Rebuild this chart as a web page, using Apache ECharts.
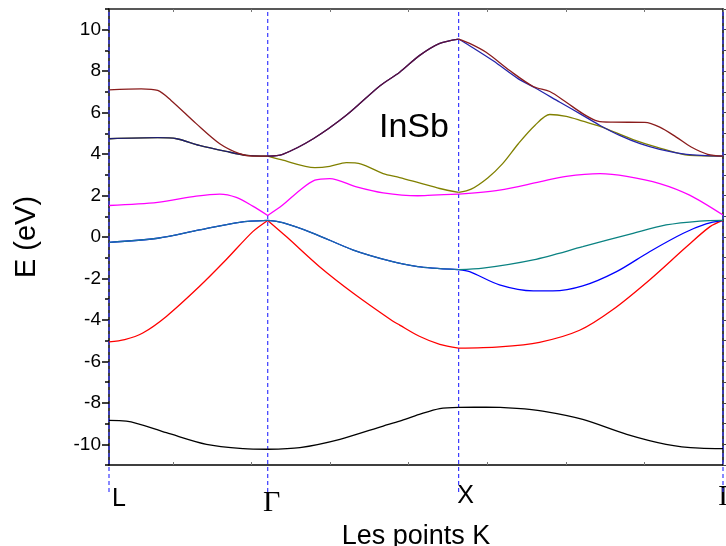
<!DOCTYPE html>
<html><head><meta charset="utf-8">
<script src="https://cdn.jsdelivr.net/npm/echarts@6/dist/echarts.min.js"></script>
<style>html,body{margin:0;padding:0;background:#fff}#c{width:726px;height:546px}</style>
</head><body><div id="c"></div>
<script>
// high-symmetry points along the k path (x in path units, ticks every 1)
const kPoints = [0, 2.02, 4.45, 7.815];
const kLabels = ['L', 'Γ', 'X', 'Γ'];
const xMax = 7.815;
const xTicks = [0.815, 1.815, 2.815, 3.815, 4.815, 5.815, 6.815, 7.815];
const yMin = -11, yMax = 11;
const yMajorTicks = [-10, -8, -6, -4, -2, 0, 2, 4, 6, 8, 10];
const yMinorTicks = [-11, -9, -7, -5, -3, -1, 1, 3, 5, 7, 9, 11];
const yRightTicks = [-11,-10,-9,-8,-7,-6,-5,-4,-3,-2,-1,0,1,2,3,4,5,6,7,8,9,10,11];
const kLineBottom = -12.3;

// energy bands [k, E (eV)]
const band1 = [[0,-8.85],[0.22,-8.88],[0.73,-9.44],[1.24,-10.0],[1.71,-10.21],[2.02,-10.24],[2.43,-10.16],[2.94,-9.76],[3.49,-9.12],[3.70,-8.88],[3.95,-8.56],[4.21,-8.28],[4.45,-8.22],[4.80,-8.21],[5.19,-8.27],[5.52,-8.4],[6.03,-8.8],[6.59,-9.52],[7.09,-10.0],[7.52,-10.19],[7.815,-10.21]];
const band2 = [[0,-5.06],[0.20,-4.95],[0.43,-4.63],[0.73,-3.83],[1.15,-2.39],[1.49,-1.10],[1.83,0.26],[2.02,0.80],[2.26,0.01],[2.68,-1.43],[3.11,-2.71],[3.61,-4.05],[3.70,-4.25],[3.95,-4.79],[4.21,-5.18],[4.45,-5.36],[4.97,-5.30],[5.48,-5.08],[5.99,-4.5],[6.41,-3.51],[6.88,-2.07],[7.35,-0.47],[7.65,0.5],[7.815,0.80]];
const band3 = [[0,-0.26],[0.62,-0.06],[1.15,0.34],[1.66,0.71],[2.02,0.80],[2.21,0.69],[2.60,0.18],[3.11,-0.63],[3.61,-1.19],[3.93,-1.43],[4.12,-1.5],[4.45,-1.57],[4.76,-1.5],[5.40,-1.1],[6.03,-0.47],[6.67,0.18],[7.09,0.58],[7.52,0.77],[7.815,0.80]];
const band4 = [[0,-0.26],[0.62,-0.06],[1.15,0.34],[1.66,0.71],[2.02,0.80],[2.21,0.69],[2.60,0.18],[3.11,-0.63],[3.61,-1.19],[3.93,-1.43],[4.12,-1.5],[4.45,-1.57],[4.59,-1.67],[4.97,-2.31],[5.40,-2.6],[5.65,-2.6],[6.03,-2.36],[6.46,-1.67],[6.88,-0.71],[7.31,0.18],[7.60,0.63],[7.815,0.80]];
const band5 = [[0,1.52],[0.62,1.67],[1.11,1.97],[1.41,2.07],[1.62,1.91],[1.83,1.49],[2.02,1.04],[2.21,1.54],[2.43,2.26],[2.62,2.74],[2.81,2.82],[3.15,2.42],[3.49,2.13],[3.93,1.99],[4.12,2.02],[4.45,2.07],[4.97,2.26],[5.48,2.66],[5.82,2.93],[6.25,3.06],[6.59,2.93],[7.01,2.58],[7.39,2.02],[7.815,1.06]];
const band6 = [[0,4.74],[0.62,4.79],[0.86,4.74],[1.15,4.42],[1.49,4.13],[1.75,3.94],[2.02,3.90],[2.19,3.73],[2.62,3.35],[2.81,3.41],[3.02,3.59],[3.21,3.52],[3.49,3.06],[3.70,2.87],[3.95,2.61],[4.21,2.34],[4.45,2.15],[4.61,2.31],[4.82,2.85],[5.01,3.54],[5.21,4.5],[5.42,5.38],[5.61,5.91],[5.82,5.82],[6.03,5.59],[6.25,5.34],[6.67,4.7],[6.97,4.34],[7.39,3.94],[7.815,3.90]];
const band7 = [[0,4.74],[0.62,4.79],[0.86,4.74],[1.15,4.42],[1.49,4.13],[1.75,3.94],[2.02,3.90],[2.21,3.99],[2.60,4.74],[3.02,5.87],[3.45,7.3],[3.70,7.95],[3.95,8.75],[4.21,9.34],[4.45,9.55],[4.59,9.23],[4.89,8.5],[5.21,7.63],[5.42,7.2],[5.74,6.5],[6.03,5.87],[6.25,5.38],[6.50,4.9],[6.76,4.5],[7.01,4.23],[7.35,3.99],[7.815,3.90]];
const band8 = [[0,7.10],[0.41,7.15],[0.62,7.07],[0.79,6.59],[1.11,5.47],[1.41,4.5],[1.66,4.02],[1.83,3.90],[2.02,3.90],[2.21,3.99],[2.60,4.74],[3.02,5.87],[3.45,7.3],[3.70,7.95],[3.95,8.75],[4.21,9.34],[4.45,9.55],[4.59,9.34],[4.80,8.91],[5.10,8.03],[5.40,7.26],[5.61,7.02],[5.82,6.5],[6.03,5.95],[6.22,5.59],[6.41,5.54],[6.82,5.53],[7.01,5.30],[7.22,4.82],[7.41,4.34],[7.62,3.99],[7.815,3.90]];

const FONT = '"Liberation Sans", Arial, sans-serif';
const SERIF = '"Liberation Serif", "Times New Roman", serif';

const chart = echarts.init(document.getElementById('c'), null, {renderer: 'canvas'});

const series = [];
kPoints.forEach(k => {
  series.push({
    type: 'line', data: [[k, kLineBottom], [k, yMax]], clip: false, silent: true,
    symbol: 'none', z: 1,
    lineStyle: {color: '#3a3aff', width: 1.2, type: [4, 3]}
  });
});
function seg(data, a, b) { return data.filter(p => p[0] >= a - 1e-9 && p[0] <= b + 1e-9); }
// draw a band piecewise between high-symmetry points; colors = one per path section
function band(data, colors) {
  for (let s = 0; s < kPoints.length - 1; s++) {
    const c = colors[s];
    series.push({type: 'line', data: seg(data, kPoints[s], kPoints[s + 1]), symbol: 'none', showSymbol: false,
      smooth: 0.3, z: 3, lineStyle: {color: c, width: 1.3}, itemStyle: {color: c}});
  }
}
band(band1, ['#000000', '#000000', '#000000']);
band(band2, ['#ff0000', '#ff0000', '#ff0000']);
band(band4, ['#0000ff', '#0000ff', '#0000ff']);
band(band3, ['#1a6ea2', '#1a6ea2', '#0a8282']);
band(band5, ['#ff00ff', '#ff00ff', '#ff00ff']);
band(band6, ['#808000', '#808000', '#808000']);
band(band7, ['#1c1c72', '#2424aa', '#2424aa']);
band(band8, ['#8a1c1c', '#5c1038', '#8a1c1c']);

const labelKeys = ['l', 'g1', 'x', 'g2'];
const option = {
  animation: false,
  backgroundColor: '#fff',
  title: {text: 'InSb', left: 379, top: 111, padding: 0,
    textStyle: {fontSize: 34, fontWeight: 'normal', fontFamily: FONT, color: '#000'}},
  grid: {left: 109, right: 3, top: 9, bottom: 81, containLabel: false, outerBoundsMode: 'none'},
  xAxis: [
    {type: 'value', min: 0, max: xMax, position: 'bottom',
      axisLine: {show: true, onZero: false, lineStyle: {color: '#000', width: 1.5}},
      axisTick: {show: true, inside: true, length: 3, customValues: xTicks, lineStyle: {color: '#777', width: 1}},
      axisLabel: {show: true, customValues: kPoints, margin: 22, showMinLabel: true, showMaxLabel: true,
        formatter: function (v) {
          let idx = 0;
          kPoints.forEach((k, i) => { if (Math.abs(k - v) < 1e-6) idx = i; });
          return '{' + labelKeys[idx] + '|' + kLabels[idx] + '}';
        },
        rich: {
          l: {fontSize: 25, fontFamily: FONT, color: '#000', padding: [0, 0, 0, 20]},
          g1: {fontSize: 30, fontFamily: SERIF, color: '#000', padding: [1, 0, 0, 8]},
          x: {fontSize: 25, fontFamily: FONT, color: '#000', padding: [-3, 0, 0, 14]},
          g2: {fontSize: 30, fontFamily: SERIF, color: '#000', padding: [-5, 0, 0, 8]}
        }},
      splitLine: {show: false},
      name: 'Les points K', nameLocation: 'middle', nameGap: 37,
      nameTextStyle: {fontSize: 27, fontFamily: FONT, color: '#000'}},
    {type: 'value', min: 0, max: xMax, position: 'top',
      axisLine: {show: true, onZero: false, lineStyle: {color: '#222', width: 1.5}},
      axisTick: {show: true, inside: true, length: 3, customValues: xTicks, lineStyle: {color: '#777', width: 1}},
      axisLabel: {show: false}, splitLine: {show: false}}
  ],
  yAxis: [
    {type: 'value', min: yMin, max: yMax, position: 'left',
      axisLine: {show: true, onZero: false, lineStyle: {color: '#000', width: 1.5}},
      axisTick: {show: true, inside: false, length: 7, customValues: yMajorTicks, lineStyle: {color: '#000', width: 1.5}},
      axisLabel: {show: true, customValues: yMajorTicks, margin: 8, fontSize: 19, fontFamily: FONT, color: '#000'},
      splitLine: {show: false},
      name: 'E (eV)', nameLocation: 'middle', nameGap: 68, nameRotate: 90,
      nameTextStyle: {fontSize: 29, fontFamily: FONT, color: '#000'}},
    {type: 'value', min: yMin, max: yMax, position: 'left',
      axisLine: {show: false, onZero: false},
      axisTick: {show: true, inside: false, length: 4, customValues: yMinorTicks, lineStyle: {color: '#000', width: 1.5}},
      axisLabel: {show: false}, splitLine: {show: false}},
    {type: 'value', min: yMin, max: yMax, position: 'right',
      axisLine: {show: true, onZero: false, lineStyle: {color: '#000', width: 1.5}},
      axisTick: {show: true, inside: false, length: 3, customValues: yRightTicks, lineStyle: {color: '#444', width: 1}},
      axisLabel: {show: false}, splitLine: {show: false}}
  ],
  series: series
};
chart.setOption(option);
</script>
</body></html>
